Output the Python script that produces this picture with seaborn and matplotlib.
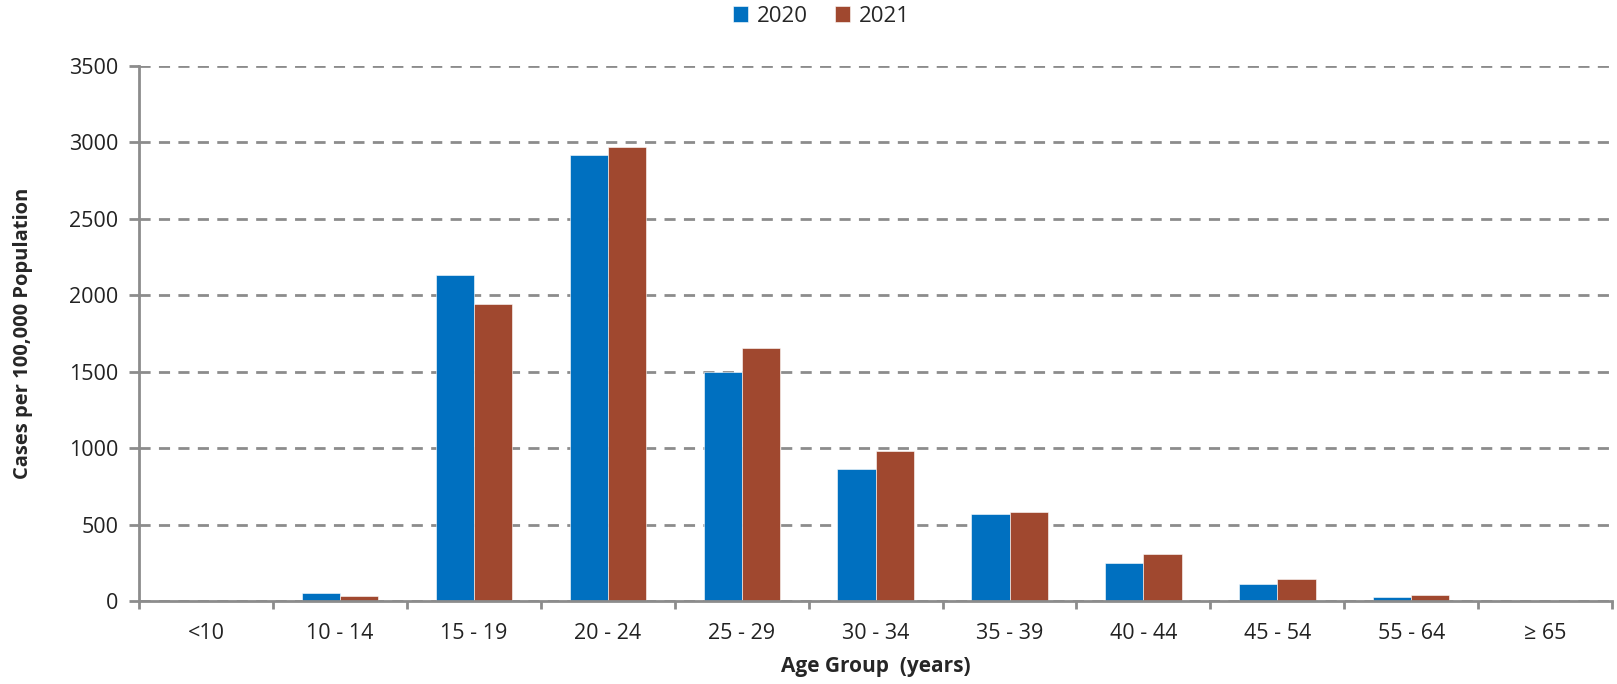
import matplotlib
matplotlib.use("Agg")
import matplotlib.pyplot as plt
import seaborn as sns
import pandas as pd
import numpy as np

categories = ["<10", "10 - 14", "15 - 19", "20 - 24", "25 - 29", "30 - 34",
              "35 - 39", "40 - 44", "45 - 54", "55 - 64", "\u2265 65"]
values_2020 = [0, 55, 2135, 2915, 1500, 865, 568, 248, 110, 25, 0]
values_2021 = [0, 32, 1945, 2968, 1655, 980, 582, 309, 148, 38, 0]
series = ["2020", "2021"]
colors = ["#0070C0", "#A0482F"]

df = pd.DataFrame({
    "Age Group": categories * 2,
    "Year": [series[0]] * len(categories) + [series[1]] * len(categories),
    "Cases": values_2020 + values_2021,
})

sns.set_theme(style="white")
plt.rcParams["font.family"] = ["Open Sans", "DejaVu Sans"]

fig = plt.figure(figsize=(16.17, 6.84), dpi=100)
ax = fig.add_axes([0.086, 0.121, 0.911, 0.7825])

sns.barplot(data=df, x="Age Group", y="Cases", hue="Year", order=categories,
            hue_order=series, palette=colors, width=0.57, saturation=1,
            edgecolor="white", linewidth=0.4, ax=ax)

gray = "#8c8c8c"
ax.set_ylim(0, 3500)
ax.set_xlim(-0.5, len(categories) - 0.5)
ax.set_yticks(np.arange(0, 3501, 500))
ax.yaxis.grid(True, linestyle=(0, (4, 3)), color=gray, linewidth=2.0)
ax.set_axisbelow(True)
for s in ["top", "right"]:
    ax.spines[s].set_visible(False)
for s in ["left", "bottom"]:
    ax.spines[s].set_color(gray)
    ax.spines[s].set_linewidth(2.0)

ax.set_xticks(np.arange(-0.5, len(categories), 1.0), minor=True)
ax.tick_params(axis="x", which="major", length=0, pad=16, labelsize=15.5, colors="#222222")
ax.tick_params(axis="x", which="minor", length=6, width=2.0, color=gray, direction="out", bottom=True)
ax.tick_params(axis="y", which="major", length=7, width=2.0, color=gray, direction="out",
               labelsize=15.5, colors="#222222", pad=8, left=True)

ax.set_xlabel("Age Group  (years)", fontsize=15, fontweight="bold", labelpad=8)
ax.set_ylabel("Cases per 100,000 Population", fontsize=14.5, fontweight="bold", labelpad=26)

ax.legend(loc="center", bbox_to_anchor=(0.508, 0.976), bbox_transform=fig.transFigure,
          ncol=2, frameon=False,
          fontsize=16, handlelength=0.7, handleheight=0.7, handletextpad=0.4,
          columnspacing=1.2, borderaxespad=0)

fig.savefig("out.png", dpi=100, facecolor="white")
